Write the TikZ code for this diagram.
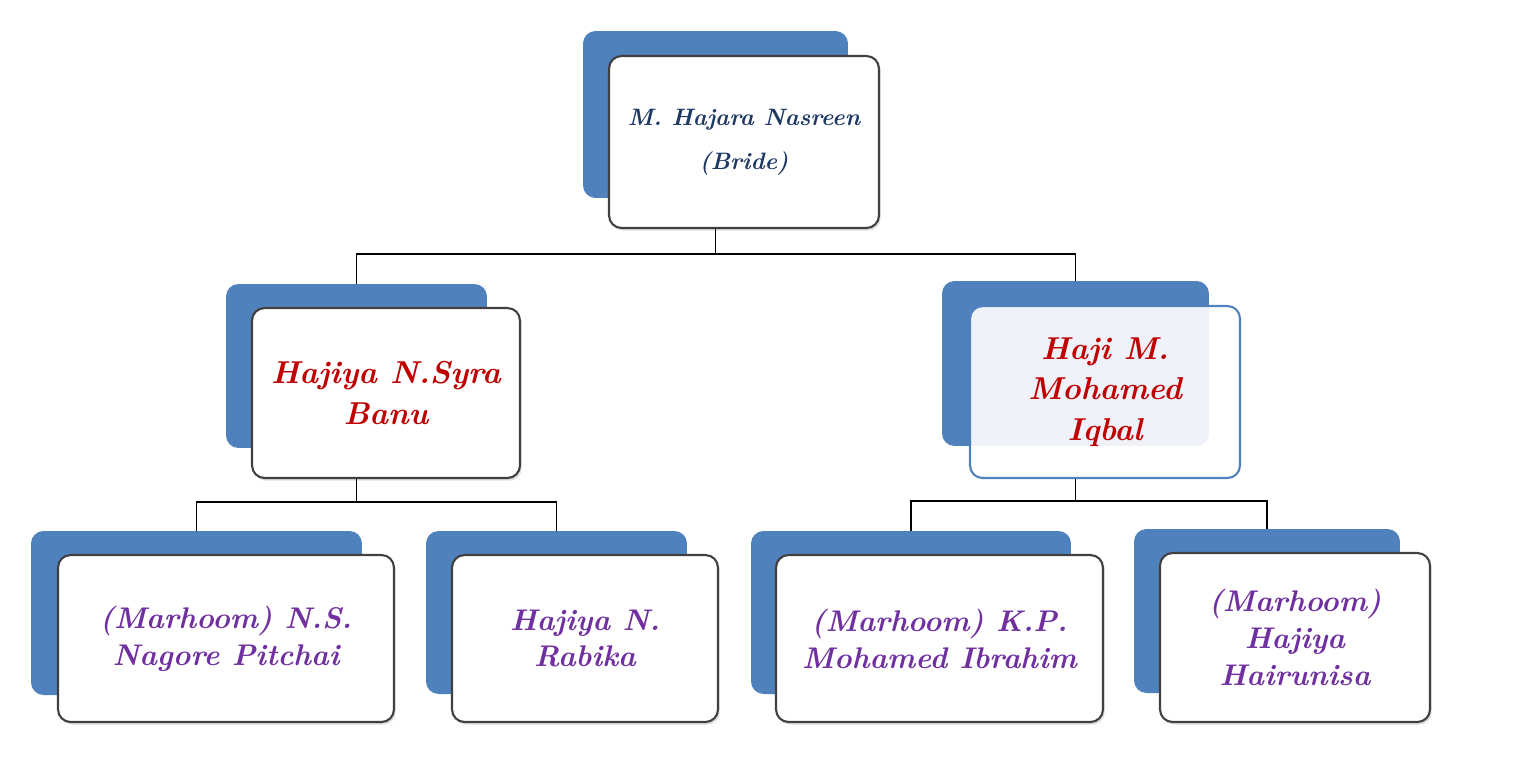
\documentclass[tikz,border=0pt]{standalone}
\usetikzlibrary{positioning,shadows}
\definecolor{cardblue}{RGB}{79,129,189}
\definecolor{navytext}{RGB}{31,56,100}
\definecolor{redtext}{RGB}{192,0,0}
\definecolor{purpletext}{RGB}{112,48,160}
\tikzset{>=latex}

\begin{document}
\begin{tikzpicture}[x=0.02cm, y=-0.02cm,
        back/.style={fill=cardblue, rounded corners=0.25cm, inner sep=0pt},
        cardbase/.style={draw=black!75, line width=1.2pt, fill=white, rounded corners=0.25cm,
            align=center, inner sep=0pt, font=\bfseries\itshape\fontsize{17}{21}\selectfont},
        card/.style={cardbase, drop shadow={opacity=0.25, shadow xshift=1pt, shadow yshift=-1.5pt}},
        link/.style={line width=1pt}
    ]
    \useasboundingbox (0,0) rectangle (1528,779);
    % bride
    \node[back, minimum width=5.3cm, minimum height=3.34cm] (brideback) at (715.5,114.5) {};
    \node[card, minimum width=5.4cm, minimum height=3.44cm, text=navytext,
        font=\bfseries\itshape\fontsize{13.5}{25}\selectfont] (bride) at (744,142) {M. Hajara Nasreen\\(Bride)};
    % parents
    \node[back, minimum width=5.22cm, minimum height=3.28cm] (motherback) at (356.5,366) {};
    \node[card, minimum width=5.36cm, minimum height=3.4cm, text=redtext,
        font=\bfseries\itshape\fontsize{18}{23}\selectfont] (mother) at (386,393) {Hajiya N.Syra\\Banu};
    \node[back, minimum width=5.34cm, minimum height=3.3cm] (fatherback) at (1075.5,363.5) {};
    \node[cardbase, draw=cardblue, fill opacity=0.91, text opacity=1, minimum width=5.4cm, minimum height=3.44cm, text=redtext,
        font=\bfseries\itshape\fontsize{18}{23}\selectfont] (father) at (1105,392) {Haji M.\\Mohamed\\Iqbal};
    % grandparents
    \node[back, minimum width=6.62cm, minimum height=3.28cm] (nsnpback) at (196.5,613) {};
    \node[card, minimum width=6.72cm, minimum height=3.34cm, text=purpletext] (nsnp) at (226,638.5) {(Marhoom) N.S.\\Nagore Pitchai};
    \node[back, minimum width=5.22cm, minimum height=3.26cm] (rabikaback) at (556.5,612.5) {};
    \node[card, minimum width=5.32cm, minimum height=3.34cm, text=purpletext] (rabika) at (585,638.5) {Hajiya N.\\Rabika};
    \node[back, minimum width=6.4cm, minimum height=3.26cm] (kpmiback) at (911,612.5) {};
    \node[card, minimum width=6.54cm, minimum height=3.34cm, text=purpletext] (kpmi) at (939.5,638.5) {(Marhoom) K.P.\\Mohamed Ibrahim};
    \node[back, minimum width=5.32cm, minimum height=3.28cm] (hairunisaback) at (1267,611) {};
    \node[card, minimum width=5.4cm, minimum height=3.38cm, text=purpletext] (hairunisa) at (1295,637.5) {(Marhoom)\\Hajiya\\Hairunisa};
    % connectors
    \draw[link] (brideback.south |- bride.south) -- ++(0,25) coordinate (topjoin);
    \draw[link] (topjoin) -| (motherback.north);
    \draw[link] (topjoin) -| (fatherback.north);
    \draw[link] (motherback.south |- mother.south) -- ++(0,23) coordinate (leftjoin);
    \draw[link] (leftjoin) -| (nsnpback.north);
    \draw[link] (leftjoin) -| (rabikaback.north);
    \draw[link] (fatherback.south |- father.south) -- ++(0,22) coordinate (rightjoin);
    \draw[link] (rightjoin) -| (kpmiback.north);
    \draw[link] (rightjoin) -| (hairunisaback.north);
\end{tikzpicture}
\end{document}
